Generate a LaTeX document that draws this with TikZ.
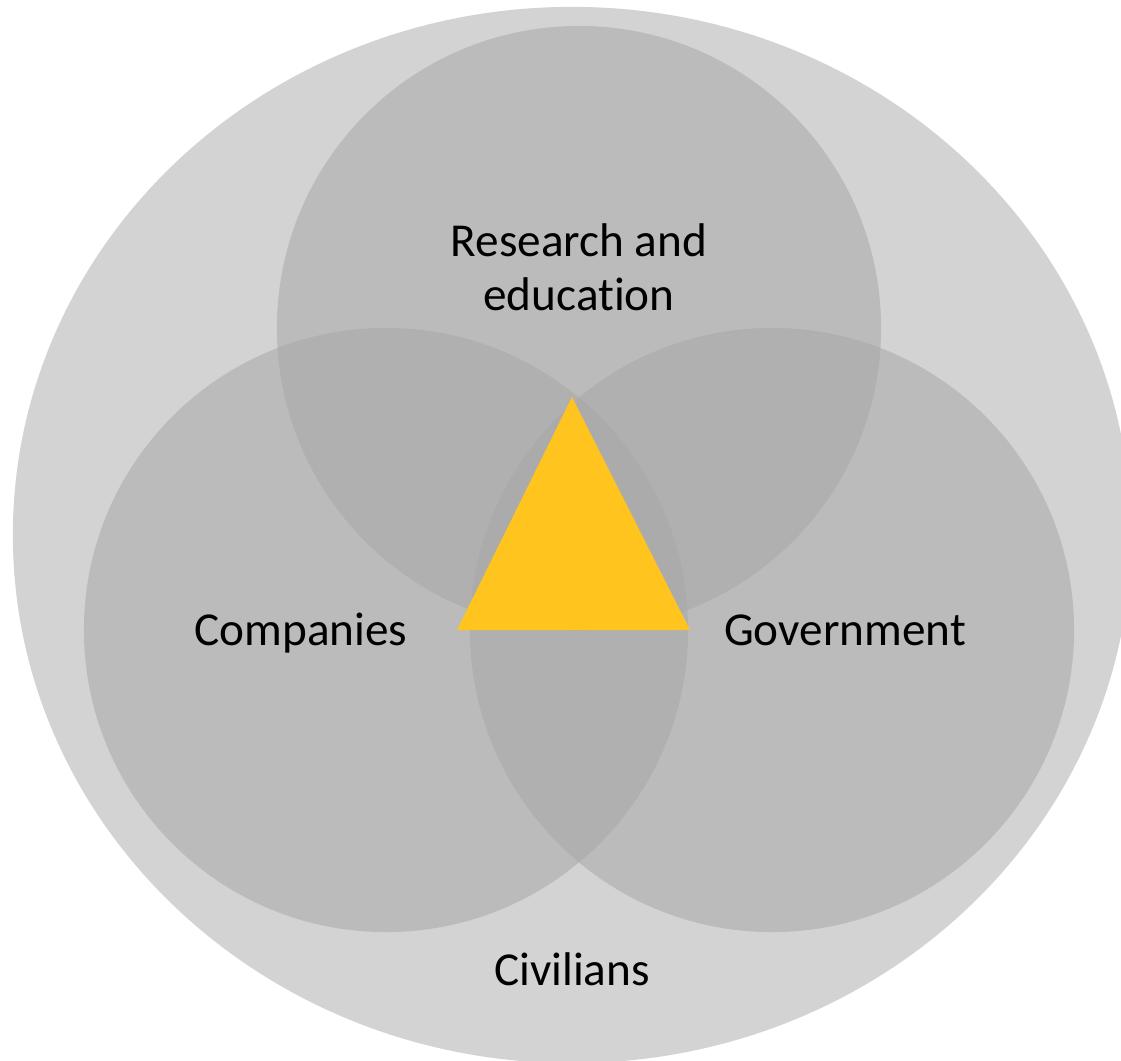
\documentclass[tikz,border=0pt]{standalone}
\usepackage{fontspec}
\setmainfont{Carlito}[Ligatures=NoCommon]
\definecolor{civgray}{RGB}{211, 211, 211}
\definecolor{setgray}{RGB}{167, 167, 167}
\definecolor{coregold}{RGB}{255, 197, 30}
\usetikzlibrary{shapes.geometric}

\begin{document}
\begin{tikzpicture}[x=0.025cm, y=-0.025cm,
  sector/.style={circle, fill=setgray, fill opacity=0.54, minimum size=15.1cm, inner sep=0pt},
  setlabel/.style={anchor=base, align=center, font=\fontsize{33.6}{37.7}\selectfont}]
  \clip (0, 0) rectangle (1121, 1061);

  % ===== Civilians (outer) =====
  \node[ellipse, fill=civgray, minimum width=27.95cm, minimum height=26.4cm, inner sep=0pt] (civilians) at (572, 535) {};

  % Three overlapping sets
  \node[sector] (research) at (579, 328) {};
  \node[sector] (companies) at (386, 630) {};
  \node[sector] (government) at (772, 630) {};

  % Core triangle
  \fill[coregold] (572, 397) -- (457, 630) -- (690, 630) -- cycle;

  % Labels
  \node[setlabel] (researchtext) at (579, 310) {Research and\\education};
  \node[setlabel] (companiestext) at (301, 645) {Companies};
  \node[setlabel] (governmenttext) at (845, 645) {Government};
  \node[setlabel] (civilianstext) at (572, 985) {Civilians};
\end{tikzpicture}
\end{document}
